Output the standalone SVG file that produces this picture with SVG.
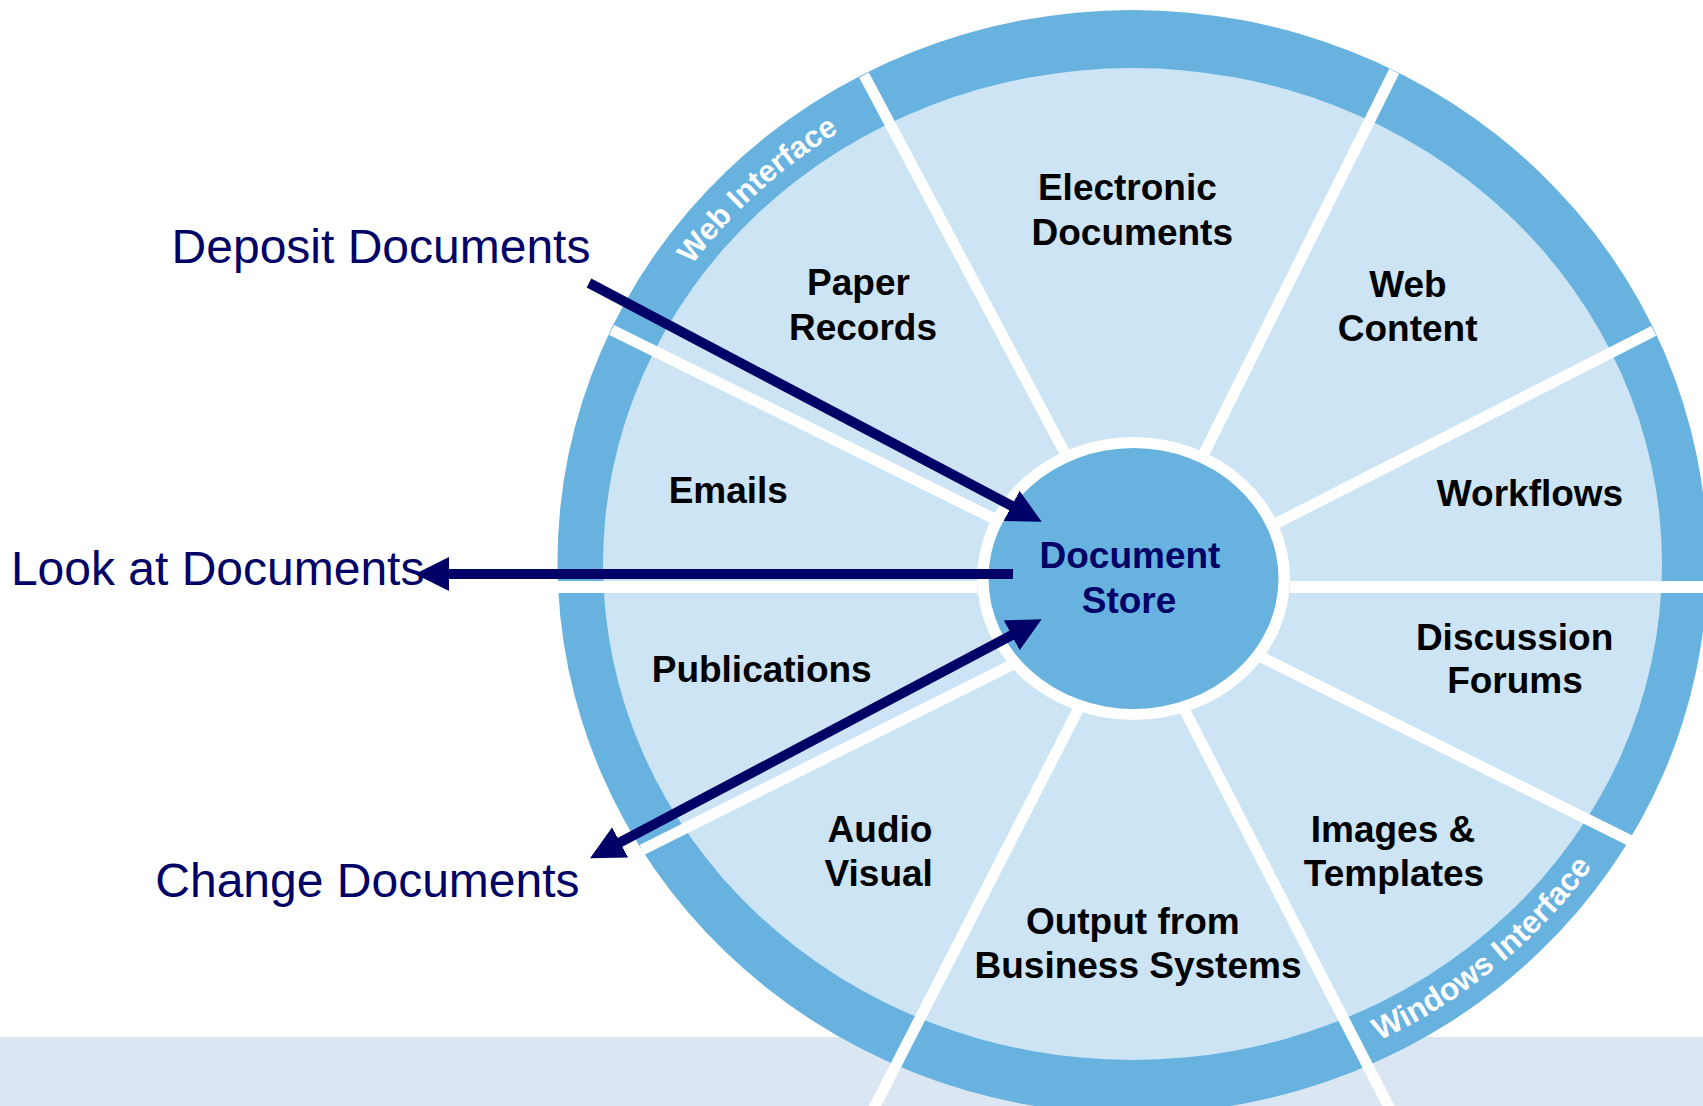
<svg xmlns="http://www.w3.org/2000/svg" width="1703" height="1106" viewBox="0 0 1703 1106">
  <defs>
    <style>
      .ring { fill: #67b2df; }
      .sector { fill: #cce4f4; }
      .divider { stroke: #ffffff; stroke-width: 11; fill: none; }
      .divider-h { stroke: #ffffff; stroke-width: 12; fill: none; }
      .label { font-family: "Liberation Sans", Arial, sans-serif; font-weight: bold; font-size: 37px; fill: #000000; text-anchor: middle; }
      .hub-label { font-family: "Liberation Sans", Arial, sans-serif; font-weight: bold; font-size: 37px; fill: #000066; text-anchor: middle; }
      .band-label { font-family: "Liberation Sans", Arial, sans-serif; font-weight: bold; fill: #ffffff; }
      .action { font-family: "Liberation Sans", Arial, sans-serif; font-size: 48px; fill: #000066; }
      .flow { stroke: #000066; stroke-width: 10; fill: none; }
    </style>
    <marker id="head" viewBox="0 0 34 34" refX="14" refY="17" markerWidth="34" markerHeight="34" markerUnits="userSpaceOnUse" orient="auto-start-reverse">
      <path d="M0,0 L34,17 L0,34 z" fill="#000066"/>
    </marker>
    <!-- baselines for the curved interface captions -->
    <path id="arc-web" d="M612.4,421.6 A541,513 0 0 1 1001.6,65.2"/>
    <path id="arc-win" d="M1210.4,1089.8 A560,532 0 0 0 1670.8,709.6"/>
  </defs>

  <!-- footer strip -->
  <rect x="0" y="1037" width="1703" height="69" fill="#dae6f1"/>

  <!-- wheel body -->
  <g id="wheel">
    <ellipse class="ring" cx="1132.5" cy="562" rx="575" ry="552"/>
    <ellipse class="sector" cx="1132.5" cy="564" rx="529.5" ry="496"/>
  </g>

  <!-- white spokes between the sectors -->
  <g id="spokes">
    <line class="divider-h" x1="1290" y1="587" x2="1710" y2="587"/>
    <line class="divider-h" x1="977" y1="587" x2="557" y2="587"/>
    <line class="divider" x1="1230" y1="546.9" x2="1653.8" y2="330.8"/>
    <line class="divider" x1="1190.8" y1="480" x2="1394.2" y2="71.2"/>
    <line class="divider" x1="1079.2" y1="480" x2="864" y2="75"/>
    <line class="divider" x1="1040" y1="541.4" x2="611.7" y2="330"/>
    <line class="divider" x1="1040" y1="650.8" x2="642" y2="849.8"/>
    <line class="divider" x1="1083" y1="700" x2="873" y2="1110"/>
    <line class="divider" x1="1179.4" y1="700" x2="1390.5" y2="1110"/>
    <line class="divider" x1="1240" y1="646.5" x2="1632" y2="841.5"/>
  </g>

  <!-- sectors -->
  <g id="paper-records">
    <text class="label" x="858.5" y="295">Paper</text>
    <text class="label" x="863" y="340">Records</text>
    <text class="band-label" font-size="30.5"><textPath href="#arc-web" startOffset="50%" text-anchor="middle">Web Interface</textPath></text>
  </g>
  <g id="electronic-documents">
    <text class="label" x="1127.4" y="200">Electronic</text>
    <text class="label" x="1132.3" y="245">Documents</text>
  </g>
  <g id="web-content">
    <text class="label" x="1408" y="296.5">Web</text>
    <text class="label" x="1407.6" y="341">Content</text>
  </g>
  <g id="workflows">
    <text class="label" x="1530" y="505.5">Workflows</text>
  </g>
  <g id="discussion-forums">
    <text class="label" x="1514.6" y="649.5">Discussion</text>
    <text class="label" x="1515" y="693">Forums</text>
  </g>
  <g id="images-templates">
    <text class="label" x="1393" y="841.5">Images &amp;</text>
    <text class="label" x="1394" y="886">Templates</text>
    <text class="band-label" font-size="31.5"><textPath href="#arc-win" startOffset="50%" text-anchor="middle">Windows Interface</textPath></text>
  </g>
  <g id="output-business">
    <text class="label" x="1132.8" y="934">Output from</text>
    <text class="label" x="1138" y="978.3">Business Systems</text>
  </g>
  <g id="audio-visual">
    <text class="label" x="880" y="842">Audio</text>
    <text class="label" x="878.7" y="886">Visual</text>
  </g>
  <g id="publications">
    <text class="label" x="761.7" y="681.7">Publications</text>
  </g>
  <g id="emails">
    <text class="label" x="728.3" y="503.3">Emails</text>
  </g>

  <!-- hub -->
  <g id="document-store">
    <ellipse cx="1133.5" cy="578.5" rx="156.5" ry="141.5" fill="#ffffff"/>
    <ellipse class="ring" cx="1133.5" cy="578.5" rx="145" ry="130.5"/>
    <text class="hub-label" x="1130" y="568.3">Document</text>
    <text class="hub-label" x="1129" y="613.3">Store</text>
  </g>

  <!-- actions -->
  <g id="deposit-documents">
    <text class="action" x="171.6" y="262.5">Deposit Documents</text>
  </g>
  <g id="look-at-documents">
    <text class="action" x="10.9" y="585">Look at Documents</text>
  </g>
  <g id="change-documents">
    <text class="action" x="155.3" y="897">Change Documents</text>
  </g>

  <!-- connectors -->
  <g id="connectors">
    <line class="flow" x1="589" y1="283" x2="1024" y2="512.4" marker-end="url(#head)"/>
    <line class="flow" x1="1013" y1="574" x2="435" y2="574" marker-end="url(#head)"/>
    <line class="flow" x1="607.7" y1="848.9" x2="1024" y2="628.7" marker-start="url(#head)" marker-end="url(#head)"/>
  </g>
</svg>
